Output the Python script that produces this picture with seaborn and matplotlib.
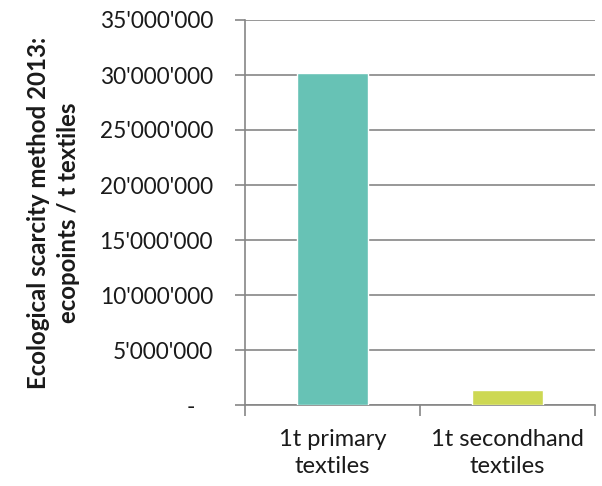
import matplotlib
matplotlib.use("Agg")
import matplotlib.pyplot as plt
import seaborn as sns
import pandas as pd
from matplotlib.ticker import FuncFormatter, FixedLocator

categories = ["1t primary\ntextiles", "1t secondhand\ntextiles"]
ecopoints = [30200000, 1360000]
bar_colors = ["#67C2B5", "#CDD853"]
y_ticks = [0, 5000000, 10000000, 15000000, 20000000, 25000000, 30000000, 35000000]
y_label = "Ecological scarcity method 2013:\necopoints / t textiles"

sns.set_theme(style="white")
plt.rcParams["font.family"] = ["Lato", "DejaVu Sans"]

df = pd.DataFrame({"category": categories, "ecopoints": ecopoints})

fig = plt.figure(figsize=(6.02, 4.86), dpi=100)
ax = fig.add_axes([245 / 602, 1 - 405 / 486, 350 / 602, 385 / 486])

sns.barplot(data=df, x="category", y="ecopoints", hue="category",
            palette=bar_colors, width=0.405, legend=False, ax=ax,
            saturation=1, zorder=3)

grid_color = "#868686"
ax.set_ylim(0, 35000000)
ax.set_xlim(-0.5, 1.5)
ax.yaxis.set_major_locator(FixedLocator(y_ticks))


def fmt(v, _):
    if v == 0:
        return "-   "
    return f"{int(v):,}".replace(",", "'")


ax.yaxis.set_major_formatter(FuncFormatter(fmt))
ax.grid(axis="y", color=grid_color, linewidth=1.2, zorder=0)
ax.set_axisbelow(True)

for side in ["top", "right"]:
    ax.spines[side].set_visible(False)
for side in ["left", "bottom"]:
    ax.spines[side].set_color(grid_color)
    ax.spines[side].set_linewidth(1.2)

ax.tick_params(axis="y", which="major", length=7, width=1.2, color=grid_color,
               left=True, labelsize=16.3, labelcolor="#1a1a1a", pad=16)
ax.tick_params(axis="x", which="major", length=0, labelsize=17,
               labelcolor="#1a1a1a", pad=17)
for lbl in ax.get_xticklabels():
    lbl.set_linespacing(1.35)
ax.set_xticks([-0.5, 0.5, 1.5], minor=True)
ax.tick_params(axis="x", which="minor", length=8, width=1.2, color=grid_color,
               bottom=True, direction="out")

ax.set_xlabel("")
ax.set_ylabel(y_label, fontsize=17.3, fontweight="bold", color="#1a1a1a",
              labelpad=14, linespacing=1.4)

fig.savefig("out.png", dpi=100)
